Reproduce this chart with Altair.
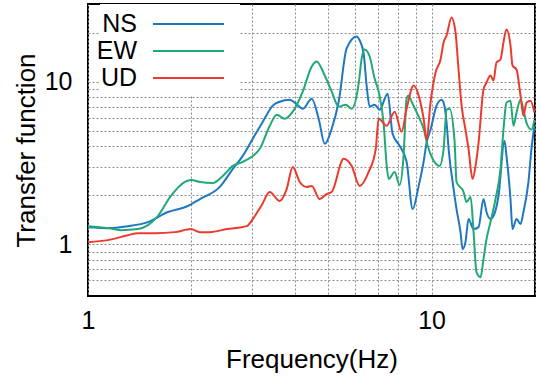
import altair as alt
import pandas as pd

series_names = ["NS", "EW", "UD"]
series_colors = ["#1f77c4", "#20a974", "#ee3a2e"]

ns_f = [1.00, 1.143, 1.307, 1.494, 1.708, 1.953, 2.117, 2.419, 2.64, 2.822, 3.017, 3.227, 3.45, 3.614, 3.866, 3.997, 4.217, 4.479, 4.693, 4.887, 5.121, 5.365, 5.66, 6.053, 6.176, 6.343, 6.471, 6.603, 6.827, 7.06, 7.45, 7.70, 8.07, 8.46, 8.81, 9.17, 9.48, 9.67, 9.93, 10.34, 10.69, 10.84, 11.06, 11.21, 11.59, 11.82, 12.14, 12.31, 12.55, 12.81, 13.25, 13.70, 14.16, 14.45, 14.84, 15.14, 15.66, 16.30, 16.52, 16.97, 17.20, 17.67, 18.15, 18.51, 19.14, 19.53, 19.93]
ns_v = [1.27, 1.255, 1.29, 1.367, 1.576, 1.717, 1.895, 2.249, 2.904, 3.494, 4.448, 5.664, 7.11, 7.52, 7.74, 7.42, 6.81, 7.85, 5.91, 4.14, 5.13, 7.52, 15.98, 18.96, 17.91, 14.89, 9.45, 7.01, 7.21, 6.72, 8.43, 4.78, 4.03, 3.21, 1.644, 2.28, 3.21, 4.20, 5.06, 7.11, 7.74, 7.42, 5.58, 3.86, 2.19, 1.644, 1.186, 0.932, 1.029, 1.427, 1.238, 1.273, 1.895, 1.576, 1.427, 1.489, 1.979, 4.32, 3.494, 1.895, 1.238, 1.427, 1.329, 1.576, 2.413, 3.86, 5.35]

ew_f = [1.00, 1.143, 1.247, 1.397, 1.494, 1.597, 1.743, 1.914, 1.993, 2.117, 2.309, 2.468, 2.64, 2.822, 3.162, 3.381, 3.543, 3.738, 3.944, 4.217, 4.479, 4.63, 4.887, 5.121, 5.365, 5.623, 5.853, 6.135, 6.259, 6.386, 6.603, 6.827, 7.014, 7.253, 7.40, 7.50, 7.81, 8.07, 8.29, 8.46, 8.57, 8.75, 9.17, 9.48, 9.74, 10.07, 10.55, 10.84, 11.06, 11.28, 11.67, 11.82, 12.39, 12.64, 12.99, 13.25, 13.51, 13.88, 14.16, 14.45, 14.84, 15.35, 15.87, 16.19, 16.52, 16.97, 17.31, 17.67, 18.15, 18.51, 18.89, 19.53, 19.93]
ew_v = [1.291, 1.255, 1.22, 1.238, 1.31, 1.489, 1.979, 2.413, 2.484, 2.413, 2.379, 2.63, 3.03, 3.21, 3.86, 5.35, 6.26, 5.91, 6.53, 8.68, 12.38, 13.29, 10.89, 8.68, 7.01, 7.21, 6.81, 9.72, 13.87, 15.76, 14.27, 10.43, 8.68, 5.51, 3.07, 2.52, 2.78, 2.31, 3.49, 7.85, 8.20, 7.52, 6.08, 5.13, 4.03, 3.35, 3.03, 3.86, 6.72, 6.81, 4.26, 2.413, 2.094, 1.816, 1.95, 1.186, 0.672, 0.626, 0.808, 1.074, 1.367, 1.895, 2.904, 5.06, 7.42, 7.63, 5.35, 6.44, 7.74, 6.72, 5.58, 5.06, 5.83]

ud_f = [1.00, 1.143, 1.307, 1.397, 1.566, 1.79, 1.993, 2.117, 2.263, 2.536, 2.90, 3.017, 3.205, 3.38, 3.614, 3.788, 3.944, 4.134, 4.33, 4.479, 4.726, 4.953, 5.121, 5.548, 5.853, 6.176, 6.56, 6.88, 7.014, 7.40, 7.81, 8.18, 8.46, 8.87, 9.17, 9.48, 9.67, 9.93, 10.27, 10.62, 10.84, 11.06, 11.43, 11.74, 11.98, 12.23, 12.55, 12.81, 13.16, 13.43, 13.70, 14.16, 14.45, 14.84, 15.14, 15.45, 15.87, 16.19, 16.52, 16.97, 17.20, 17.67, 18.15, 18.51, 18.89, 19.40, 19.93]
ud_v = [1.029, 1.059, 1.136, 1.169, 1.169, 1.186, 1.238, 1.186, 1.186, 1.238, 1.291, 1.427, 1.741, 2.094, 1.842, 2.19, 2.987, 2.413, 2.249, 2.28, 1.895, 2.035, 2.094, 3.35, 3.03, 2.28, 2.78, 3.86, 5.91, 5.35, 6.53, 4.91, 6.81, 9.45, 8.20, 5.91, 4.39, 7.42, 11.36, 13.67, 17.41, 19.23, 24.8, 20.07, 11.86, 7.11, 5.06, 3.86, 2.52, 3.03, 4.20, 8.92, 9.86, 10.89, 10.14, 13.1, 13.67, 17.41, 20.94, 16.68, 12.56, 11.86, 8.20, 6.17, 7.42, 7.63, 6.44]

x_grid = [1, 2, 3, 4, 5, 6, 7, 8, 9, 10, 20]
y_grid = [0.6, 0.7, 0.8, 0.9, 1, 2, 3, 4, 5, 6, 7, 8, 9, 10, 20]

FONT = "Liberation Sans"

def frame(name, f, v):
    d = pd.DataFrame({"f": f, "v": v})
    d["series"] = name
    d["i"] = range(len(d))
    return d

frames = [frame("NS", ns_f, ns_v), frame("EW", ew_f, ew_v), frame("UD", ud_f, ud_v)]

color_scale = alt.Scale(domain=series_names, range=series_colors)
x_scale = alt.Scale(type="log", domain=[1, 20], nice=False)
y_scale = alt.Scale(type="log", domain=[0.48, 30], nice=False)

label_expr = "datum.value == 1 ? '1' : (datum.value == 10 ? '10' : '')"
x_axis = alt.Axis(values=x_grid, title="Frequency(Hz)", grid=True, gridDash=[2, 2],
                  gridColor="#8c8c8c", gridWidth=1, ticks=False, domain=False,
                  labelExpr=label_expr,
                  labelFont=FONT, labelFontSize=25, labelColor="black", labelPadding=12,
                  labelFlush=False, labelOverlap=False,
                  titleFont=FONT, titleFontSize=26, titleFontWeight="normal", titleColor="black",
                  titlePadding=13)
y_axis = alt.Axis(values=y_grid, title="Transfer function", grid=True, gridDash=[2, 2],
                  gridColor="#8c8c8c", gridWidth=1, ticks=False, domain=False,
                  labelExpr=label_expr, labelOverlap=False,
                  labelFont=FONT, labelFontSize=25, labelColor="black", labelPadding=16,
                  titleFont=FONT, titleFontSize=26, titleFontWeight="normal", titleColor="black",
                  titlePadding=5)

layers = []
for d in frames:
    layers.append(alt.Chart(d).mark_line(strokeWidth=2, interpolate="monotone", clip=True).encode(
        x=alt.X("f:Q", scale=x_scale, axis=x_axis),
        y=alt.Y("v:Q", scale=y_scale, axis=y_axis),
        color=alt.Color("series:N", scale=color_scale, legend=None),
        order="i:Q",
    ))

legend_df = pd.DataFrame({"series": series_names})
legend_bg = alt.Chart(legend_df).mark_rect(fill="white").encode(
    x=alt.value(12), x2=alt.value(152), y=alt.value(0), y2=alt.value(92))
leg_y = alt.Y("series:N", scale=alt.Scale(type="point", domain=series_names, range=[20, 74], padding=0), axis=None)
legend_text = alt.Chart(legend_df).mark_text(align="right", baseline="middle", font=FONT,
                                             fontSize=25, color="black").encode(
    x=alt.value(49), y=leg_y, text="series:N")
legend_rule = alt.Chart(legend_df).mark_rule(strokeWidth=2).encode(
    x=alt.value(65), x2=alt.value(136), y=leg_y,
    color=alt.Color("series:N", scale=color_scale, legend=None))

lines = alt.layer(*layers)
legend = alt.layer(legend_bg, legend_text, legend_rule)

chart = alt.layer(lines, legend).resolve_scale(y="independent").properties(
    width=447, height=292,
    padding={"left": 88, "top": 4, "right": 4, "bottom": 85},
    autosize="none",
    background="white",
).configure_view(stroke="black", strokeWidth=2)

chart.save("out.html", embed_options={"renderer": "svg", "actions": False})
